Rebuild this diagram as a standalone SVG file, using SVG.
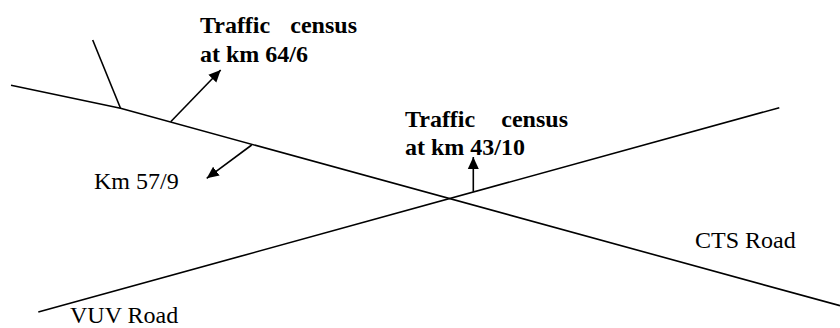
<svg xmlns="http://www.w3.org/2000/svg" width="840" height="328" viewBox="0 0 840 328">
<style>
.road{fill:none;stroke:#000;stroke-width:1.6;stroke-linejoin:round}
.arr{fill:none;stroke:#000;stroke-width:1.6;marker-end:url(#ah)}
text{font-family:'Liberation Serif','DejaVu Serif',serif;font-size:24px;fill:#000}
.b{font-weight:bold}
</style>
<defs>
<marker id="ah" markerUnits="userSpaceOnUse" markerWidth="14" markerHeight="14" viewBox="0 0 14 14" refX="12" refY="7" orient="auto">
<path d="M0,1.5 L12,7 L0,12.5 Z" fill="#000"/>
</marker>
</defs>
<rect width="840" height="328" fill="#fff"/>
<g id="cts-road">
<polyline class="road" points="11,85.3 120.5,108.3 840,305.7"/>
<line class="road" x1="92.7" y1="40" x2="120.5" y2="108.3"/>
<text font-family="Liberation Serif, serif" x="695" y="248">CTS Road</text>
</g>
<g id="vuv-road">
<line class="road" x1="38.3" y1="312" x2="779.3" y2="107.7"/>
<text font-family="Liberation Serif, serif" x="70" y="323">VUV Road</text>
</g>
<g id="census-64">
<text class="b" font-family="Liberation Serif, serif"><tspan x="200" y="32.7">Traffic</tspan><tspan x="357" y="32.7" text-anchor="end">census</tspan><tspan x="200" y="61.7">at km 64/6</tspan></text>
</g>
<g id="census-43">
<text class="b" font-family="Liberation Serif, serif"><tspan x="405" y="126.7">Traffic</tspan><tspan x="568" y="126.7" text-anchor="end">census</tspan><tspan x="405" y="155">at km 43/10</tspan></text>
</g>
<g id="km-57">
<text font-family="Liberation Serif, serif" x="94" y="189">Km 57/9</text>
</g>
<g id="connectors">
<line class="arr" x1="170.7" y1="121.7" x2="220.7" y2="70"/>
<line class="arr" x1="251.7" y1="145" x2="206.7" y2="178.3"/>
<line class="arr" x1="473.3" y1="191.7" x2="473.3" y2="157"/>
</g>
</svg>
